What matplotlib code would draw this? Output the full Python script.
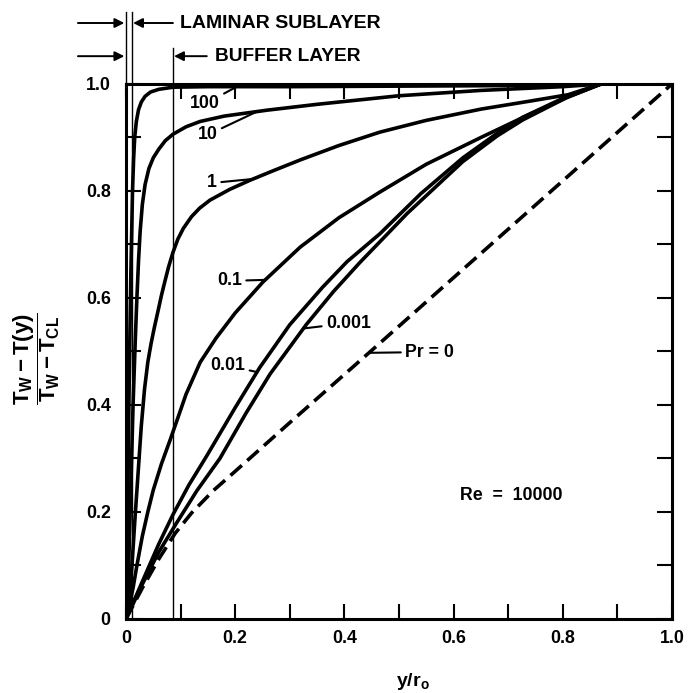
import numpy as np
import matplotlib
matplotlib.use('Agg')
import matplotlib.pyplot as plt
from matplotlib.ticker import FixedLocator, FuncFormatter

plt.rcParams['font.family'] = ['Liberation Sans', 'DejaVu Sans']
plt.rcParams['font.weight'] = 'bold'
plt.rcParams['mathtext.fontset'] = 'custom'
plt.rcParams['mathtext.rm'] = 'Liberation Sans:bold'
plt.rcParams['mathtext.it'] = 'Liberation Sans:bold'
plt.rcParams['mathtext.bf'] = 'Liberation Sans:bold'
plt.rcParams['mathtext.sf'] = 'Liberation Sans:bold'
plt.rcParams['mathtext.default'] = 'bf'

# ---------------- data ----------------
x_pr100 = [0, 0.003, 0.006, 0.009, 0.012, 0.014, 0.016, 0.019, 0.023, 0.028, 0.035,
           0.045, 0.06, 0.086, 0.15, 0.3, 0.5, 0.7, 0.85, 1.0]
y_pr100 = [0, 0.2, 0.45, 0.65, 0.8, 0.86, 0.9, 0.93, 0.952, 0.966, 0.977,
           0.985, 0.99, 0.994, 0.995, 0.995, 0.996, 0.997, 1.0, 1.0]

x_pr10 = [0, 0.005, 0.009, 0.013, 0.017, 0.02, 0.023, 0.026, 0.03, 0.035, 0.042, 0.05,
          0.06, 0.072, 0.086, 0.11, 0.136, 0.18, 0.258, 0.35, 0.5, 0.65, 0.8, 0.87, 1.0]
y_pr10 = [0, 0.1, 0.25, 0.4, 0.52, 0.6, 0.67, 0.725, 0.775, 0.812, 0.842, 0.862,
          0.878, 0.894, 0.906, 0.92, 0.93, 0.94, 0.951, 0.962, 0.978, 0.988, 0.995, 1.0, 1.0]

x_pr1 = [0, 0.006, 0.011, 0.016, 0.022, 0.028, 0.034, 0.04, 0.046, 0.052, 0.059, 0.065,
         0.071, 0.078, 0.086, 0.095, 0.105, 0.12, 0.135, 0.154, 0.19, 0.227, 0.27, 0.319,
         0.39, 0.465, 0.55, 0.65, 0.74, 0.81, 0.87, 1.0]
y_pr1 = [0, 0.04, 0.1, 0.18, 0.27, 0.36, 0.43, 0.48, 0.515, 0.545, 0.577, 0.605,
         0.63, 0.658, 0.685, 0.71, 0.73, 0.752, 0.768, 0.783, 0.803, 0.82, 0.838, 0.858,
         0.885, 0.91, 0.932, 0.953, 0.968, 0.98, 1.0, 1.0]

x_pr01 = [0, 0.006, 0.013, 0.02, 0.03, 0.04, 0.05, 0.065, 0.081, 0.093, 0.11, 0.136,
          0.165, 0.2, 0.251, 0.319, 0.39, 0.465, 0.55, 0.65, 0.722, 0.808, 0.87, 1.0]
y_pr01 = [0, 0.025, 0.058, 0.1, 0.155, 0.2, 0.241, 0.29, 0.335, 0.37, 0.42, 0.48,
          0.525, 0.572, 0.63, 0.695, 0.75, 0.798, 0.85, 0.9, 0.935, 0.975, 1.0, 1.0]

x_pr001 = [0, 0.03, 0.06, 0.086, 0.115, 0.148, 0.2, 0.245, 0.3, 0.36, 0.405, 0.465,
           0.54, 0.617, 0.68, 0.727, 0.808, 0.87, 1.0]
y_pr001 = [0, 0.07, 0.14, 0.195, 0.25, 0.305, 0.395, 0.47, 0.55, 0.62, 0.668, 0.72,
           0.795, 0.862, 0.908, 0.938, 0.977, 1.0, 1.0]

x_pr0001 = [0, 0.03, 0.06, 0.093, 0.13, 0.172, 0.22, 0.264, 0.33, 0.38, 0.429, 0.465,
            0.515, 0.617, 0.68, 0.727, 0.808, 0.87, 1.0]
y_pr0001 = [0, 0.065, 0.125, 0.18, 0.24, 0.3, 0.385, 0.458, 0.55, 0.612, 0.667, 0.705,
            0.758, 0.855, 0.903, 0.933, 0.975, 1.0, 1.0]

x_pr0 = [0, 0.03, 0.06, 0.09, 0.12, 0.16, 0.2, 0.3, 0.45, 0.6, 0.8, 1.0]
y_pr0 = [0, 0.058, 0.112, 0.16, 0.198, 0.24, 0.276, 0.367, 0.502, 0.638, 0.819, 1.0]

curve_labels = ['100', '10', '1', '0.1', '0.01', '0.001', 'Pr = 0']

laminar_edge = 0.011   # y/r0 of laminar sublayer edge
buffer_edge = 0.086    # y/r0 of buffer layer edge

tick_values = [round(0.1 * i, 1) for i in range(11)]
tick_labels = ['0', '', '0.2', '', '0.4', '', '0.6', '', '0.8', '', '1.0']

# ---------------- figure ----------------
fig = plt.figure(figsize=(6.88, 6.93), dpi=100)
ax = fig.add_axes([0.1831, 0.1068, 0.7936, 0.772])
ax.set_xlim(0, 1)
ax.set_ylim(0, 1)

lw = 2.6
series = [(x_pr100, y_pr100), (x_pr10, y_pr10), (x_pr1, y_pr1), (x_pr01, y_pr01),
          (x_pr001, y_pr001), (x_pr0001, y_pr0001)]
for xs, ys in series:
    ax.plot(xs, ys, color='black', lw=lw, solid_joinstyle='round', solid_capstyle='round')
ax.plot(x_pr0, y_pr0, color='black', lw=lw, dashes=(4.2, 2.0))

# boundary lines
ax.plot([laminar_edge, laminar_edge], [0, 1.135], color='black', lw=1.0, clip_on=False)
ax.plot([0, 0], [1.0, 1.135], color='black', lw=1.0, clip_on=False)
ax.plot([buffer_edge, buffer_edge], [0, 1.067], color='black', lw=1.0, clip_on=False)

fs = 12.8
arrow_kw = dict(arrowstyle='-|>', mutation_scale=14, lw=1.4, color='black',
                shrinkA=0, shrinkB=0)
# top annotations
ax.annotate('', xy=(-0.003, 1.114), xytext=(-0.088, 1.114), arrowprops=arrow_kw,
            annotation_clip=False)
ax.annotate('', xy=(laminar_edge + 0.002, 1.114), xytext=(buffer_edge, 1.114),
            arrowprops=arrow_kw, annotation_clip=False)
ax.text(0.099, 1.114, 'LAMINAR SUBLAYER', fontsize=14, fontweight='bold',
        ha='left', va='center', clip_on=False)
ax.annotate('', xy=(-0.003, 1.052), xytext=(-0.088, 1.052), arrowprops=arrow_kw,
            annotation_clip=False)
ax.annotate('', xy=(buffer_edge + 0.002, 1.052), xytext=(0.148, 1.052),
            arrowprops=arrow_kw, annotation_clip=False)
ax.text(0.163, 1.052, 'BUFFER LAYER', fontsize=13.8, fontweight='bold',
        ha='left', va='center', clip_on=False)

# curve labels with leader lines
lead = dict(arrowstyle='-', lw=1.5, color='black', shrinkA=1, shrinkB=0)
label_spec = [
    (curve_labels[0], x_pr100, y_pr100, 0.203, (0.145, 0.963), 'center'),
    (curve_labels[1], x_pr10, y_pr10, 0.24, (0.15, 0.905), 'center'),
    (curve_labels[2], x_pr1, y_pr1, 0.233, (0.158, 0.815), 'center'),
    (curve_labels[3], x_pr01, y_pr01, 0.255, (0.19, 0.632), 'center'),
    (curve_labels[4], x_pr001, y_pr001, 0.24, (0.187, 0.473), 'center'),
    (curve_labels[5], x_pr0001, y_pr0001, 0.325, (0.366, 0.553), 'left'),
    (curve_labels[6], x_pr0, y_pr0, 0.445, (0.511, 0.499), 'left'),
]
for txt, xs, ys, xc, (tx, ty), ha in label_spec:
    yc = float(np.interp(xc, xs, ys))
    ax.annotate(txt, xy=(xc, yc), xytext=(tx, ty), ha=ha, va='center',
                fontsize=fs, fontweight='bold', arrowprops=lead)

ax.text(0.705, 0.23, 'Re  =  10000', fontsize=fs, fontweight='bold',
        ha='center', va='center')

# axes styling
for s in ax.spines.values():
    s.set_linewidth(2.2)
ax.xaxis.set_major_locator(FixedLocator(tick_values))
ax.yaxis.set_major_locator(FixedLocator(tick_values))
fmt = FuncFormatter(lambda v, pos: tick_labels[int(round(v * 10))])
ax.xaxis.set_major_formatter(fmt)
ax.yaxis.set_major_formatter(fmt)
ax.tick_params(axis='both', which='major', direction='in', length=11, width=1.5,
               top=True, right=True, labelsize=fs)
ax.tick_params(axis='x', pad=8)
ax.tick_params(axis='y', pad=11)
for lab in ax.get_xticklabels() + ax.get_yticklabels():
    lab.set_fontweight('bold')

fig.text(0.600, 0.016, r'$y/r_o$', fontsize=14, ha='center', va='center')
fig.text(0.054, 0.483, r'$\dfrac{T_W - T(y)}{T_W - T_{CL}}$', fontsize=16,
         rotation=90, ha='center', va='center')

fig.savefig('out.png', dpi=100)
